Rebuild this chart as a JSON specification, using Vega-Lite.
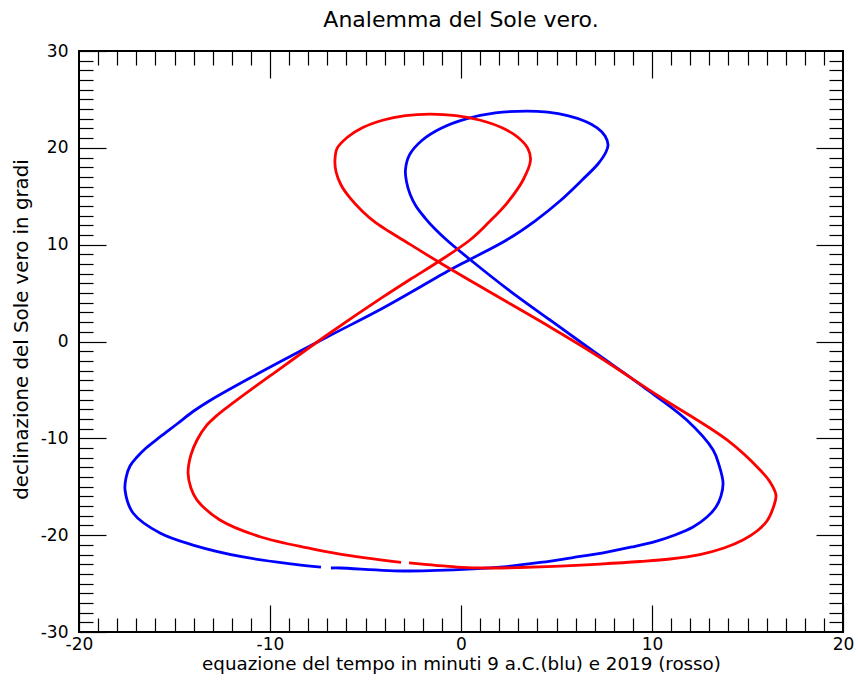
{
  "$schema": "https://vega.github.io/schema/vega-lite/v6.json",
  "width": 764,
  "height": 581,
  "autosize": "none",
  "padding": {"left": 79, "top": 51, "right": 15, "bottom": 50},
  "title": {"text": "Analemma del Sole vero.", "fontSize": 22, "font": "DejaVu Sans", "fontWeight": "normal", "offset": 10, "color": "black"},
  "config": {
    "locale": {"number": {"decimal": ".", "thousands": ",", "grouping": [3], "currency": ["", ""], "minus": "-"}},
    "view": {"stroke": "black", "strokeWidth": 2},
    "axis": {"grid": false, "domain": false, "tickColor": "black", "tickWidth": 1.2, "labelFont": "DejaVu Sans", "labelFontSize": 17, "labelColor": "black", "titleFont": "DejaVu Sans", "titleFontWeight": "normal", "titleColor": "black"}
  },
  "data": {"values": [
    {"s": "9 a.C.", "i": 1, "x": -7.33, "y": -23.29},
    {"s": "9 a.C.", "i": 2, "x": -8.80, "y": -22.98},
    {"s": "9 a.C.", "i": 3, "x": -11.41, "y": -22.25},
    {"s": "9 a.C.", "i": 4, "x": -14.03, "y": -21.02},
    {"s": "9 a.C.", "i": 5, "x": -15.76, "y": -19.78},
    {"s": "9 a.C.", "i": 6, "x": -17.17, "y": -17.71},
    {"s": "9 a.C.", "i": 7, "x": -17.59, "y": -15.34},
    {"s": "9 a.C.", "i": 8, "x": -17.54, "y": -14.10},
    {"s": "9 a.C.", "i": 9, "x": -17.33, "y": -12.86},
    {"s": "9 a.C.", "i": 10, "x": -16.96, "y": -11.93},
    {"s": "9 a.C.", "i": 11, "x": -16.49, "y": -11.00},
    {"s": "9 a.C.", "i": 12, "x": -15.76, "y": -9.86},
    {"s": "9 a.C.", "i": 13, "x": -14.87, "y": -8.52},
    {"s": "9 a.C.", "i": 14, "x": -14.03, "y": -7.23},
    {"s": "9 a.C.", "i": 15, "x": -13.14, "y": -6.09},
    {"s": "9 a.C.", "i": 16, "x": -11.05, "y": -3.77},
    {"s": "9 a.C.", "i": 17, "x": -7.01, "y": 0.46},
    {"s": "9 a.C.", "i": 18, "x": -4.08, "y": 3.46},
    {"s": "9 a.C.", "i": 19, "x": -0.58, "y": 7.38},
    {"s": "9 a.C.", "i": 20, "x": 0.47, "y": 8.47},
    {"s": "9 a.C.", "i": 21, "x": 2.39, "y": 10.48},
    {"s": "9 a.C.", "i": 22, "x": 3.87, "y": 12.44},
    {"s": "9 a.C.", "i": 23, "x": 5.18, "y": 14.51},
    {"s": "9 a.C.", "i": 24, "x": 6.34, "y": 16.68},
    {"s": "9 a.C.", "i": 25, "x": 7.17, "y": 18.33},
    {"s": "9 a.C.", "i": 26, "x": 7.59, "y": 19.57},
    {"s": "9 a.C.", "i": 27, "x": 7.70, "y": 20.29},
    {"s": "9 a.C.", "i": 28, "x": 7.55, "y": 21.20},
    {"s": "9 a.C.", "i": 29, "x": 7.13, "y": 22.05},
    {"s": "9 a.C.", "i": 30, "x": 6.46, "y": 22.77},
    {"s": "9 a.C.", "i": 31, "x": 5.58, "y": 23.33},
    {"s": "9 a.C.", "i": 32, "x": 4.54, "y": 23.68},
    {"s": "9 a.C.", "i": 33, "x": 3.44, "y": 23.80},
    {"s": "9 a.C.", "i": 34, "x": 1.80, "y": 23.60},
    {"s": "9 a.C.", "i": 35, "x": 0.27, "y": 22.99},
    {"s": "9 a.C.", "i": 36, "x": -1.04, "y": 22.02},
    {"s": "9 a.C.", "i": 37, "x": -2.05, "y": 20.76},
    {"s": "9 a.C.", "i": 38, "x": -2.69, "y": 19.29},
    {"s": "9 a.C.", "i": 39, "x": -2.91, "y": 17.71},
    {"s": "9 a.C.", "i": 40, "x": -2.85, "y": 16.47},
    {"s": "9 a.C.", "i": 41, "x": -2.67, "y": 15.23},
    {"s": "9 a.C.", "i": 42, "x": -2.36, "y": 13.99},
    {"s": "9 a.C.", "i": 43, "x": -1.88, "y": 12.75},
    {"s": "9 a.C.", "i": 44, "x": -1.36, "y": 11.62},
    {"s": "9 a.C.", "i": 45, "x": -0.75, "y": 10.48},
    {"s": "9 a.C.", "i": 46, "x": 0.47, "y": 8.47},
    {"s": "9 a.C.", "i": 47, "x": 2.57, "y": 5.21},
    {"s": "9 a.C.", "i": 48, "x": 4.66, "y": 2.22},
    {"s": "9 a.C.", "i": 49, "x": 6.91, "y": -0.98},
    {"s": "9 a.C.", "i": 50, "x": 9.53, "y": -4.67},
    {"s": "9 a.C.", "i": 51, "x": 11.82, "y": -8.11},
    {"s": "9 a.C.", "i": 52, "x": 13.20, "y": -11.20},
    {"s": "9 a.C.", "i": 53, "x": 13.51, "y": -12.76},
    {"s": "9 a.C.", "i": 54, "x": 13.72, "y": -14.61},
    {"s": "9 a.C.", "i": 55, "x": 13.61, "y": -15.96},
    {"s": "9 a.C.", "i": 56, "x": 13.35, "y": -17.09},
    {"s": "9 a.C.", "i": 57, "x": 12.88, "y": -18.13},
    {"s": "9 a.C.", "i": 58, "x": 12.15, "y": -19.16},
    {"s": "9 a.C.", "i": 59, "x": 11.20, "y": -19.98},
    {"s": "9 a.C.", "i": 60, "x": 10.16, "y": -20.66},
    {"s": "9 a.C.", "i": 61, "x": 8.95, "y": -21.22},
    {"s": "9 a.C.", "i": 62, "x": 7.64, "y": -21.74},
    {"s": "9 a.C.", "i": 63, "x": 5.86, "y": -22.31},
    {"s": "9 a.C.", "i": 64, "x": 4.14, "y": -22.82},
    {"s": "9 a.C.", "i": 65, "x": 2.39, "y": -23.24},
    {"s": "9 a.C.", "i": 66, "x": 0.63, "y": -23.49},
    {"s": "9 a.C.", "i": 67, "x": -2.83, "y": -23.70},
    {"s": "9 a.C.", "i": 68, "x": -6.33, "y": -23.39},
    {"s": "9 a.C.", "i": 69, "x": -6.81, "y": -23.39},
    {"s": "2019", "i": 101, "x": -3.14, "y": -22.80},
    {"s": "2019", "i": 102, "x": -6.34, "y": -21.95},
    {"s": "2019", "i": 103, "x": -7.91, "y": -21.36},
    {"s": "2019", "i": 104, "x": -10.52, "y": -20.16},
    {"s": "2019", "i": 105, "x": -12.62, "y": -18.43},
    {"s": "2019", "i": 106, "x": -13.82, "y": -16.37},
    {"s": "2019", "i": 107, "x": -14.14, "y": -15.13},
    {"s": "2019", "i": 108, "x": -14.29, "y": -13.58},
    {"s": "2019", "i": 109, "x": -14.14, "y": -11.72},
    {"s": "2019", "i": 110, "x": -13.82, "y": -10.17},
    {"s": "2019", "i": 111, "x": -13.35, "y": -8.73},
    {"s": "2019", "i": 112, "x": -12.72, "y": -7.54},
    {"s": "2019", "i": 113, "x": -11.94, "y": -6.35},
    {"s": "2019", "i": 114, "x": -11.05, "y": -5.05},
    {"s": "2019", "i": 115, "x": -10.00, "y": -3.56},
    {"s": "2019", "i": 116, "x": -7.01, "y": 0.67},
    {"s": "2019", "i": 117, "x": -4.08, "y": 4.60},
    {"s": "2019", "i": 118, "x": -2.67, "y": 6.40},
    {"s": "2019", "i": 119, "x": -1.19, "y": 8.24},
    {"s": "2019", "i": 120, "x": 0.47, "y": 10.48},
    {"s": "2019", "i": 121, "x": 1.47, "y": 12.34},
    {"s": "2019", "i": 122, "x": 2.41, "y": 14.30},
    {"s": "2019", "i": 123, "x": 3.25, "y": 16.68},
    {"s": "2019", "i": 124, "x": 3.64, "y": 18.74},
    {"s": "2019", "i": 125, "x": 3.49, "y": 19.97},
    {"s": "2019", "i": 126, "x": 2.96, "y": 21.12},
    {"s": "2019", "i": 127, "x": 2.12, "y": 22.10},
    {"s": "2019", "i": 128, "x": 1.02, "y": 22.85},
    {"s": "2019", "i": 129, "x": -0.26, "y": 23.33},
    {"s": "2019", "i": 130, "x": -1.62, "y": 23.49},
    {"s": "2019", "i": 131, "x": -2.91, "y": 23.33},
    {"s": "2019", "i": 132, "x": -4.11, "y": 22.85},
    {"s": "2019", "i": 133, "x": -5.14, "y": 22.10},
    {"s": "2019", "i": 134, "x": -5.93, "y": 21.12},
    {"s": "2019", "i": 135, "x": -6.48, "y": 19.97},
    {"s": "2019", "i": 136, "x": -6.60, "y": 18.74},
    {"s": "2019", "i": 137, "x": -6.54, "y": 17.50},
    {"s": "2019", "i": 138, "x": -6.28, "y": 16.16},
    {"s": "2019", "i": 139, "x": -5.81, "y": 14.82},
    {"s": "2019", "i": 140, "x": -5.18, "y": 13.48},
    {"s": "2019", "i": 141, "x": -4.45, "y": 12.24},
    {"s": "2019", "i": 142, "x": -3.72, "y": 11.31},
    {"s": "2019", "i": 143, "x": -3.04, "y": 10.48},
    {"s": "2019", "i": 144, "x": -1.19, "y": 8.24},
    {"s": "2019", "i": 145, "x": 1.15, "y": 5.52},
    {"s": "2019", "i": 146, "x": 4.66, "y": 1.50},
    {"s": "2019", "i": 147, "x": 6.91, "y": -1.19},
    {"s": "2019", "i": 148, "x": 10.42, "y": -5.73},
    {"s": "2019", "i": 149, "x": 13.93, "y": -10.17},
    {"s": "2019", "i": 150, "x": 15.66, "y": -13.27},
    {"s": "2019", "i": 151, "x": 16.18, "y": -14.51},
    {"s": "2019", "i": 152, "x": 16.49, "y": -15.85},
    {"s": "2019", "i": 153, "x": 16.34, "y": -17.20},
    {"s": "2019", "i": 154, "x": 16.02, "y": -18.54},
    {"s": "2019", "i": 155, "x": 15.50, "y": -19.57},
    {"s": "2019", "i": 156, "x": 14.76, "y": -20.50},
    {"s": "2019", "i": 157, "x": 13.77, "y": -21.33},
    {"s": "2019", "i": 158, "x": 12.51, "y": -22.00},
    {"s": "2019", "i": 159, "x": 10.94, "y": -22.46},
    {"s": "2019", "i": 160, "x": 9.37, "y": -22.72},
    {"s": "2019", "i": 161, "x": 7.28, "y": -22.98},
    {"s": "2019", "i": 162, "x": 5.18, "y": -23.19},
    {"s": "2019", "i": 163, "x": 3.09, "y": -23.34},
    {"s": "2019", "i": 164, "x": 1.52, "y": -23.39},
    {"s": "2019", "i": 165, "x": -0.21, "y": -23.29},
    {"s": "2019", "i": 166, "x": -2.72, "y": -22.87}
  ]},
  "layer": [
    {
      "mark": {"type": "line", "strokeWidth": 2.8, "interpolate": "catmull-rom"},
      "encoding": {
        "x": {"field": "x", "type": "quantitative", "scale": {"domain": [-20, 20], "nice": false, "zero": false},
              "axis": {"orient": "bottom", "values": [-20, -10, 0, 10, 20], "tickSize": -27, "labelPadding": 31, "labelFlush": false, "title": "equazione del tempo in minuti 9 a.C.(blu) e 2019 (rosso)", "titleFontSize": 18.3, "titlePadding": 3}},
        "y": {"field": "y", "type": "quantitative", "scale": {"domain": [-30, 30], "nice": false, "zero": false},
              "axis": {"orient": "left", "values": [-30, -20, -10, 0, 10, 20, 30], "tickSize": -27, "labelPadding": 38, "labelFlush": false, "title": "declinazione del Sole vero in gradi", "titleFontSize": 19.8, "titlePadding": 9, "titleY": 278}},
        "color": {"field": "s", "type": "nominal", "scale": {"domain": ["9 a.C.", "2019"], "range": ["#0000ff", "#ff0000"]}, "legend": null, "sort": ["9 a.C.", "2019"]},
        "order": {"field": "i", "type": "quantitative"}
      }
    },
    {
      "mark": {"type": "point", "opacity": 0},
      "encoding": {
        "x": {"field": "x", "type": "quantitative", "scale": {"domain": [-20, 20], "nice": false, "zero": false},
              "axis": {"orient": "bottom", "values": [-19,-18,-17,-16,-15,-14,-13,-12,-11,-9,-8,-7,-6,-5,-4,-3,-2,-1,1,2,3,4,5,6,7,8,9,11,12,13,14,15,16,17,18,19], "tickSize": -14, "labels": false, "title": null}},
        "y": {"field": "y", "type": "quantitative", "scale": {"domain": [-30, 30], "nice": false, "zero": false},
              "axis": {"orient": "left", "values": [-29,-28,-27,-26,-25,-24,-23,-22,-21,-19,-18,-17,-16,-15,-14,-13,-12,-11,-9,-8,-7,-6,-5,-4,-3,-2,-1,1,2,3,4,5,6,7,8,9,11,12,13,14,15,16,17,18,19,21,22,23,24,25,26,27,28,29], "tickSize": -14, "labels": false, "title": null}}
      }
    },
    {
      "mark": {"type": "point", "opacity": 0},
      "encoding": {
        "x": {"field": "x", "type": "quantitative", "scale": {"domain": [-20, 20], "nice": false, "zero": false},
              "axis": {"orient": "top", "values": [-10, 0, 10], "tickSize": -27, "labels": false, "title": null}},
        "y": {"field": "y", "type": "quantitative", "scale": {"domain": [-30, 30], "nice": false, "zero": false},
              "axis": {"orient": "right", "values": [-20, -10, 0, 10, 20], "tickSize": -27, "labels": false, "title": null}}
      }
    },
    {
      "mark": {"type": "point", "opacity": 0},
      "encoding": {
        "x": {"field": "x", "type": "quantitative", "scale": {"domain": [-20, 20], "nice": false, "zero": false},
              "axis": {"orient": "top", "values": [-19,-18,-17,-16,-15,-14,-13,-12,-11,-9,-8,-7,-6,-5,-4,-3,-2,-1,1,2,3,4,5,6,7,8,9,11,12,13,14,15,16,17,18,19], "tickSize": -14, "labels": false, "title": null}},
        "y": {"field": "y", "type": "quantitative", "scale": {"domain": [-30, 30], "nice": false, "zero": false},
              "axis": {"orient": "right", "values": [-29,-28,-27,-26,-25,-24,-23,-22,-21,-19,-18,-17,-16,-15,-14,-13,-12,-11,-9,-8,-7,-6,-5,-4,-3,-2,-1,1,2,3,4,5,6,7,8,9,11,12,13,14,15,16,17,18,19,21,22,23,24,25,26,27,28,29], "tickSize": -14, "labels": false, "title": null}}
      }
    }
  ],
  "resolve": {"axis": {"x": "independent", "y": "independent"}}
}
